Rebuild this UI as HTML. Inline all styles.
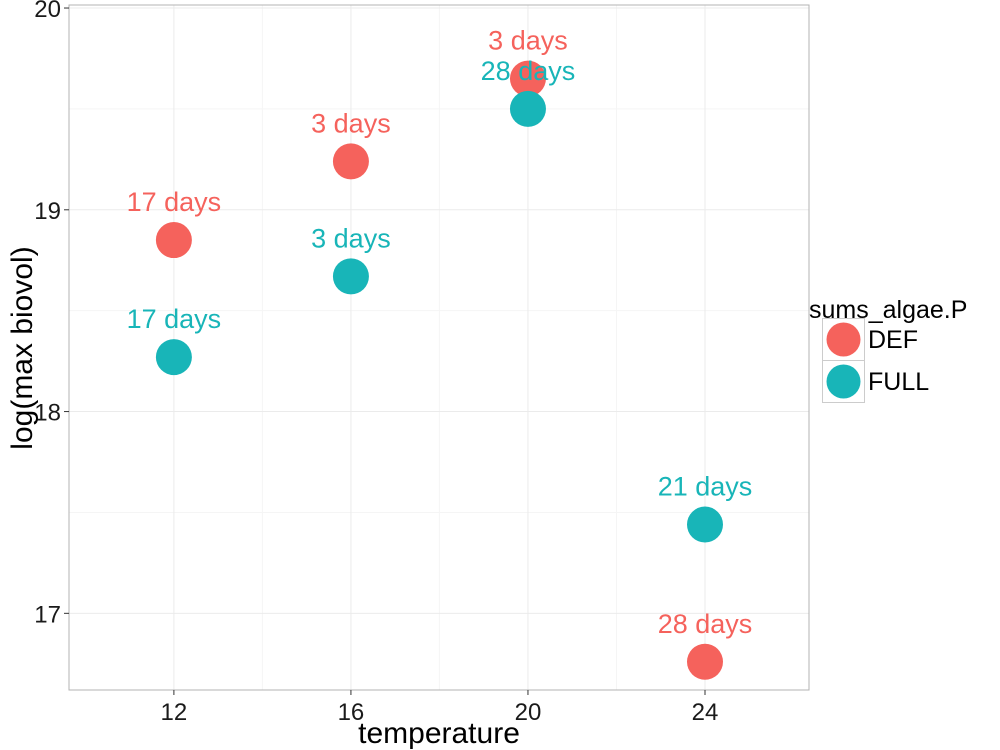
<!DOCTYPE html>
<html><head><meta charset="utf-8"><style>
html,body{margin:0;padding:0;background:#fff;}
svg{display:block;font-family:"Liberation Sans",sans-serif;}
</style></head><body>
<svg id="chart" width="1000" height="750">
<rect x="69" y="5" width="740" height="685" fill="#fff"/>
<g id="grid"></g>
<g id="marks"></g>
<rect x="69" y="5" width="740" height="685" fill="none" stroke="#b3b3b3" stroke-width="1"/>
<g id="axes"></g>
<text x="439" y="743" font-size="30" text-anchor="middle">temperature</text>
<text transform="translate(32,348) rotate(-90)" font-size="30" text-anchor="middle">log(max biovol)</text>
<g>
<text x="809" y="318" font-size="25">sums_algae.P</text>
<rect x="822.5" y="318.5" width="42" height="42" fill="#fff" stroke="#cccccc"/>
<circle cx="843.5" cy="339.5" r="17" fill="#F5625C"/>
<text x="868" y="348" font-size="25">DEF</text>
<rect x="822.5" y="360.5" width="42" height="42" fill="#fff" stroke="#cccccc"/>
<circle cx="843.5" cy="381.5" r="17" fill="#18B5B8"/>
<text x="868" y="390" font-size="25">FULL</text>
</g>
</svg>
<script>
const temps = [12, 16, 20, 24];
const defValues = [18.85, 19.24, 19.65, 16.76];
const fullValues = [18.27, 18.67, 19.50, 17.44];
const defLabels = ["17 days", "3 days", "3 days", "28 days"];
const fullLabels = ["17 days", "3 days", "28 days", "21 days"];
const xTicks = [12, 16, 20, 24];
const yTicks = [17, 18, 19, 20];

const NS = "http://www.w3.org/2000/svg";
const X0 = 69, X1 = 809, Y0 = 5, Y1 = 690;
const xMin = 9.63, xMax = 26.35, yMin = 16.62, yMax = 20.015;
function xs(v){ return X0 + (v - xMin) / (xMax - xMin) * (X1 - X0); }
function ys(v){ return Y1 - (v - yMin) / (yMax - yMin) * (Y1 - Y0); }
function mk(tag, attrs, parent){
  const e = document.createElementNS(NS, tag);
  for (const k in attrs) e.setAttribute(k, attrs[k]);
  parent.appendChild(e); return e;
}
const grid = document.getElementById('grid');
const axes = document.getElementById('axes');
const marks = document.getElementById('marks');
for (let i = 1; i < xTicks.length; i++) {
  const v = (xTicks[i-1] + xTicks[i]) / 2;
  const l = mk('line', {x1: xs(v), x2: xs(v), y1: Y0, y2: Y1, stroke: '#f5f5f5', 'stroke-width': 1}, grid);
  
  
}
for (let i = 1; i < yTicks.length; i++) {
  const v = (yTicks[i-1] + yTicks[i]) / 2;
  const l = mk('line', {x1: X0, x2: X1, y1: ys(v), y2: ys(v), stroke: '#f5f5f5', 'stroke-width': 1}, grid);
  
  
}
xTicks.forEach(v => {
  const l = mk('line', {x1: xs(v), x2: xs(v), y1: Y0, y2: Y1, stroke: '#ebebeb', 'stroke-width': 1}, grid);
  
  
  const t = mk('line', {x1: xs(v), x2: xs(v), y1: Y1, y2: Y1 + 5, stroke: '#333'}, axes);
  
  
  const tx = mk('text', {x: xs(v), y: 720, 'font-size': 24, 'text-anchor': 'middle', fill: '#1a1a1a'}, axes);
  tx.textContent = v;
  
  
});
yTicks.forEach(v => {
  const l = mk('line', {x1: X0, x2: X1, y1: ys(v), y2: ys(v), stroke: '#ebebeb', 'stroke-width': 1}, grid);
  
  
  const t = mk('line', {x1: X0 - 5, x2: X0, y1: ys(v), y2: ys(v), stroke: '#333'}, axes);
  
  
  const tx = mk('text', {x: 61, y: ys(v) + 9, 'font-size': 24, 'text-anchor': 'end', fill: '#1a1a1a'}, axes);
  tx.textContent = v;
  
  
});
function series(vals, labels, color, name){
  temps.forEach((t, i) => {
    const c = mk('circle', {cx: xs(t), cy: ys(vals[i]), r: 18, fill: color}, marks);
    
    
  });
  temps.forEach((t, i) => {
    const tx = mk('text', {x: xs(t), y: ys(vals[i]) - 29, 'font-size': 27, 'text-anchor': 'middle', fill: color}, marks);
    tx.textContent = labels[i];
    
    
  });
}
series(defValues, defLabels, '#F5625C', 'def');
series(fullValues, fullLabels, '#18B5B8', 'full');
</script>
</body></html>
